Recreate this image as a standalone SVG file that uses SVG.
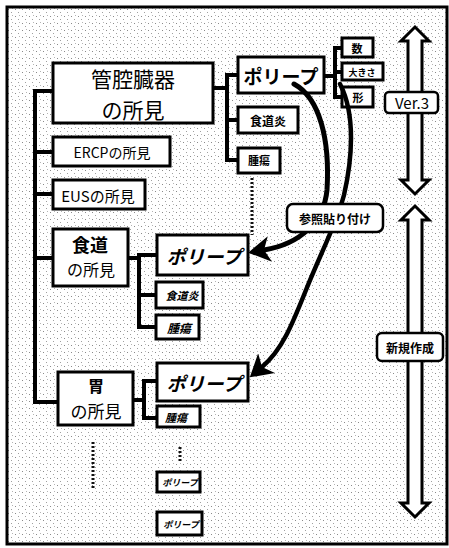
<svg xmlns="http://www.w3.org/2000/svg" width="449" height="548" viewBox="0 0 449 548">
<defs>
<pattern id="tex" width="7" height="7" patternUnits="userSpaceOnUse">
<rect x="1" y="2" width="1" height="1" fill="#8a8a8a"/>
<rect x="4" y="5" width="1" height="1" fill="#a0a0a0"/>
<rect x="5" y="1" width="1" height="1" fill="#b5b5b5"/>
</pattern>
<marker id="head" viewBox="0 0 22 26" refX="6" refY="13" markerWidth="22" markerHeight="26" markerUnits="userSpaceOnUse" orient="auto">
<path d="M0,0 L22,13 L0,26 L6,13 Z" fill="#000"/>
</marker>
<style>
.box{fill:#fff;stroke:#000;stroke-width:3}
.lbl{fill:#fff;stroke:#000;stroke-width:2.5}
.ln{fill:none;stroke:#000;stroke-width:4}
.dot{fill:none;stroke:#111;stroke-width:3;stroke-dasharray:2 2}
.dbl{fill:#fff;stroke:#000;stroke-width:3;stroke-linejoin:miter}
.cur{fill:none;stroke:#000;stroke-linecap:round}
text{font-family:"Noto Sans CJK JP","Liberation Sans",sans-serif;text-anchor:middle;dominant-baseline:central;fill:#000}
.b{font-weight:bold}
.bi{font-weight:bold;font-style:italic}
</style>
</defs>
<rect x="7" y="7" width="440" height="537" fill="url(#tex)" stroke="#000" stroke-width="3"/>

<g id="connectors">
<path class="ln" d="M53,91 H35 V402 H58"/>
<path class="ln" d="M35,152 H53"/>
<path class="ln" d="M35,194 H53"/>
<path class="ln" d="M35,258 H53"/>
<path class="ln" d="M213,88 H227"/>
<path class="ln" d="M238,75 H227 V160 H238"/>
<path class="ln" d="M227,120 H238"/>
<path class="ln" d="M324,76 H335"/>
<path class="ln" d="M342,48 H335 V97 H342"/>
<path class="ln" d="M335,72 H342"/>
<path class="ln" d="M128,258 H139"/>
<path class="ln" d="M157,255 H139 V327 H156"/>
<path class="ln" d="M139,295 H156"/>
<path class="ln" d="M133,400 H144"/>
<path class="ln" d="M157,381 H144 V418 H157"/>
<path class="dot" d="M252,178 V235"/>
<path class="dot" d="M93,442 V488"/>
<path class="dot" d="M180,447 V463"/>
<polygon class="dbl" points="415,27 429,41 422,41 422,180 429,180 415,194 401,180 408,180 408,41 401,41"/>
<polygon class="dbl" points="415,206 429,220 422,220 422,503 429,503 415,517 401,503 408,503 408,220 401,220"/>
</g>

<g id="n-kankuu"><rect class="box" x="53" y="63" width="160" height="60"/><text x="133" y="78" font-size="21">管腔臓器</text><text x="133" y="109" font-size="21">の所見</text></g>
<g id="n-ercp"><rect class="box" x="53" y="137" width="117" height="29"/><text x="112" y="152" font-size="14">ERCPの所見</text></g>
<g id="n-eus"><rect class="box" x="53" y="180" width="92" height="29"/><text x="98" y="195" font-size="15">EUSの所見</text></g>
<g id="n-shokudo"><rect class="box" x="53" y="229" width="75" height="57"/><text x="90" y="244" font-size="18" class="b">食道</text><text x="91" y="269" font-size="16">の所見</text></g>
<g id="n-i"><rect class="box" x="58" y="372" width="75" height="53"/><text x="96" y="385" font-size="16" class="b">胃</text><text x="96" y="410" font-size="17">の所見</text></g>

<g id="n-polyp1"><rect class="box" x="238" y="57" width="86" height="36"/><text x="281" y="75" font-size="19" class="b">ポリープ</text></g>
<g id="n-kazu"><rect class="box" x="342" y="38" width="31" height="19"/><text x="357" y="48" font-size="11" class="b">数</text></g>
<g id="n-ookisa"><rect class="box" x="342" y="63" width="41" height="17"/><text x="362" y="72" font-size="9" class="b">大きさ</text></g>
<g id="n-katachi"><rect class="box" x="342" y="87" width="31" height="20"/><text x="358" y="97" font-size="11" class="b">形</text></g>
<g id="n-shokudoen1"><rect class="box" x="238" y="107" width="60" height="26"/><text x="268" y="120" font-size="12" class="b">食道炎</text></g>
<g id="n-shuyo1"><rect class="box" x="238" y="148" width="42" height="25"/><text x="259" y="160" font-size="11" class="b">腫瘍</text></g>

<g id="n-polyp2"><rect class="box" x="157" y="235" width="91" height="40"/><text x="204" y="255" font-size="19" class="bi">ポリープ</text></g>
<g id="n-shokudoen2"><rect class="box" x="156" y="282" width="47" height="26"/><text x="182" y="295" font-size="11" class="bi">食道炎</text></g>
<g id="n-shuyo2"><rect class="box" x="156" y="315" width="43" height="24"/><text x="179" y="327" font-size="12" class="bi">腫瘍</text></g>

<g id="n-polyp3"><rect class="box" x="157" y="363" width="91" height="38"/><text x="204" y="382" font-size="19" class="bi">ポリープ</text></g>
<g id="n-shuyo3"><rect class="box" x="157" y="406" width="43" height="21"/><text x="176" y="417" font-size="11" class="bi">腫瘍</text></g>
<g id="n-polyp4"><rect class="box" x="157" y="472" width="43" height="20"/><text x="180" y="482" font-size="9" class="bi">ポリープ</text></g>
<g id="n-polyp5"><rect class="box" x="157" y="512" width="45" height="23"/><text x="181" y="524" font-size="9" class="bi">ポリープ</text></g>

<g id="arrows">
<path class="cur" stroke-width="5" d="M294,84 C320,98 330,140 327,190 C324,222 300,244 264,250" marker-end="url(#head)"/>
<path class="cur" stroke-width="4.5" d="M340,84 C356,115 352,160 344,195 C336,225 322,250 306,290 C292,325 282,350 262,367" marker-end="url(#head)"/>
</g>

<g id="n-ver3"><rect class="lbl" x="385" y="92" width="53" height="21" rx="4" stroke-width="2"/><text x="412" y="102" font-size="15">Ver.3</text></g>
<g id="n-sansho"><rect class="lbl" x="287" y="204" width="96" height="28" rx="6"/><text x="335" y="218" font-size="12" class="b">参照貼り付け</text></g>
<g id="n-shinki"><rect class="lbl" x="377" y="333" width="66" height="28" rx="5"/><text x="410" y="347" font-size="12" class="b">新規作成</text></g>
</svg>
